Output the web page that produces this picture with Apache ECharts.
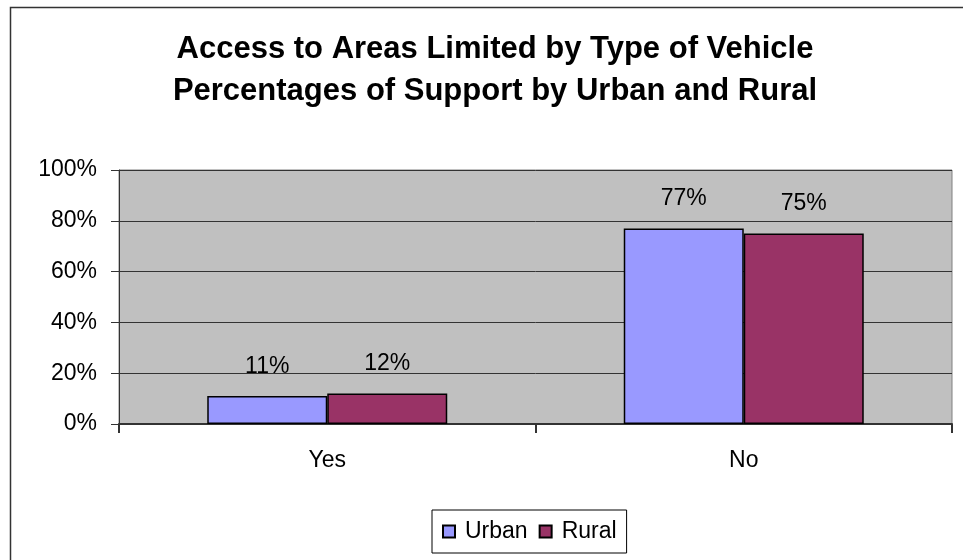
<!DOCTYPE html>
<html>
<head>
<meta charset="utf-8">
<script src="https://cdn.jsdelivr.net/npm/echarts@6/dist/echarts.min.js"></script>
<style>html,body{margin:0;padding:0;background:#fff;}#c{width:963px;height:560px;}</style>
</head>
<body>
<div id="c"></div>
<script>
const titleLines = ['Access to Areas Limited by Type of Vehicle', 'Percentages of Support by Urban and Rural'];
const categories = ['Yes', 'No'];
const urban = [11, 77];
const rural = [12, 75];
const seriesNames = ['Urban', 'Rural'];
const yTicks = [0, 20, 40, 60, 80, 100];

const FONT = '"Liberation Sans", Arial, sans-serif';
const chart = echarts.init(document.getElementById('c'), null, {renderer: 'canvas'});
const labelCfg = {
  show: true, position: 'top', distance: 18,
  formatter: p => p.value + '%', color: '#000', fontSize: 23, fontFamily: FONT
};
chart.setOption({
  animation: false,
  backgroundColor: '#fff',
  graphic: [{
    type: 'rect', left: 8, top: 5, z: -10,
    shape: {width: 1000, height: 600},
    style: {fill: 'none', stroke: '#333', lineWidth: 1.5}
  }],
  title: {
    text: titleLines.join('\n'),
    left: 490, top: 23, textAlign: 'center',
    textStyle: {fontFamily: FONT, fontSize: 31, fontWeight: 'bold', color: '#000', lineHeight: 42}
  },
  legend: {
    data: seriesNames,
    bottom: 7, left: 432,
    itemWidth: 12, itemHeight: 12, itemGap: 11,
    icon: 'rect',
    padding: [10, 10, 10, 10],
    borderColor: '#000', borderWidth: 1,
    textStyle: {fontFamily: FONT, fontSize: 23, color: '#000', padding: [0, 0, 0, 5]}
  },
  grid: {
    left: 119, right: 11, top: 170, bottom: 136,
    show: true, backgroundColor: '#c0c0c0', borderColor: '#808080', borderWidth: 1
  },
  xAxis: {
    type: 'category', data: categories,
    axisLine: {lineStyle: {color: '#333', width: 2}},
    axisTick: {show: true, length: 9, lineStyle: {color: '#333', width: 2}},
    axisLabel: {color: '#000', fontSize: 23, fontFamily: FONT, margin: 25}
  },
  yAxis: {
    type: 'value', min: yTicks[0], max: yTicks[yTicks.length - 1], interval: 20,
    axisLine: {show: true, lineStyle: {color: '#333', width: 1}},
    axisTick: {show: true, length: 8, lineStyle: {color: '#333'}},
    axisLabel: {formatter: '{value}%', color: '#000', fontSize: 23, fontFamily: FONT, margin: 22},
    splitLine: {show: true, lineStyle: {color: '#333', width: 1}}
  },
  series: [
    {name: seriesNames[0], type: 'bar', data: urban, barWidth: 120, barGap: '0%',
     itemStyle: {color: '#9999ff', borderColor: '#000', borderWidth: 1.5}, label: labelCfg},
    {name: seriesNames[1], type: 'bar', data: rural, barWidth: 120,
     itemStyle: {color: '#993366', borderColor: '#000', borderWidth: 1.5}, label: labelCfg}
  ]
});
</script>
</body>
</html>
